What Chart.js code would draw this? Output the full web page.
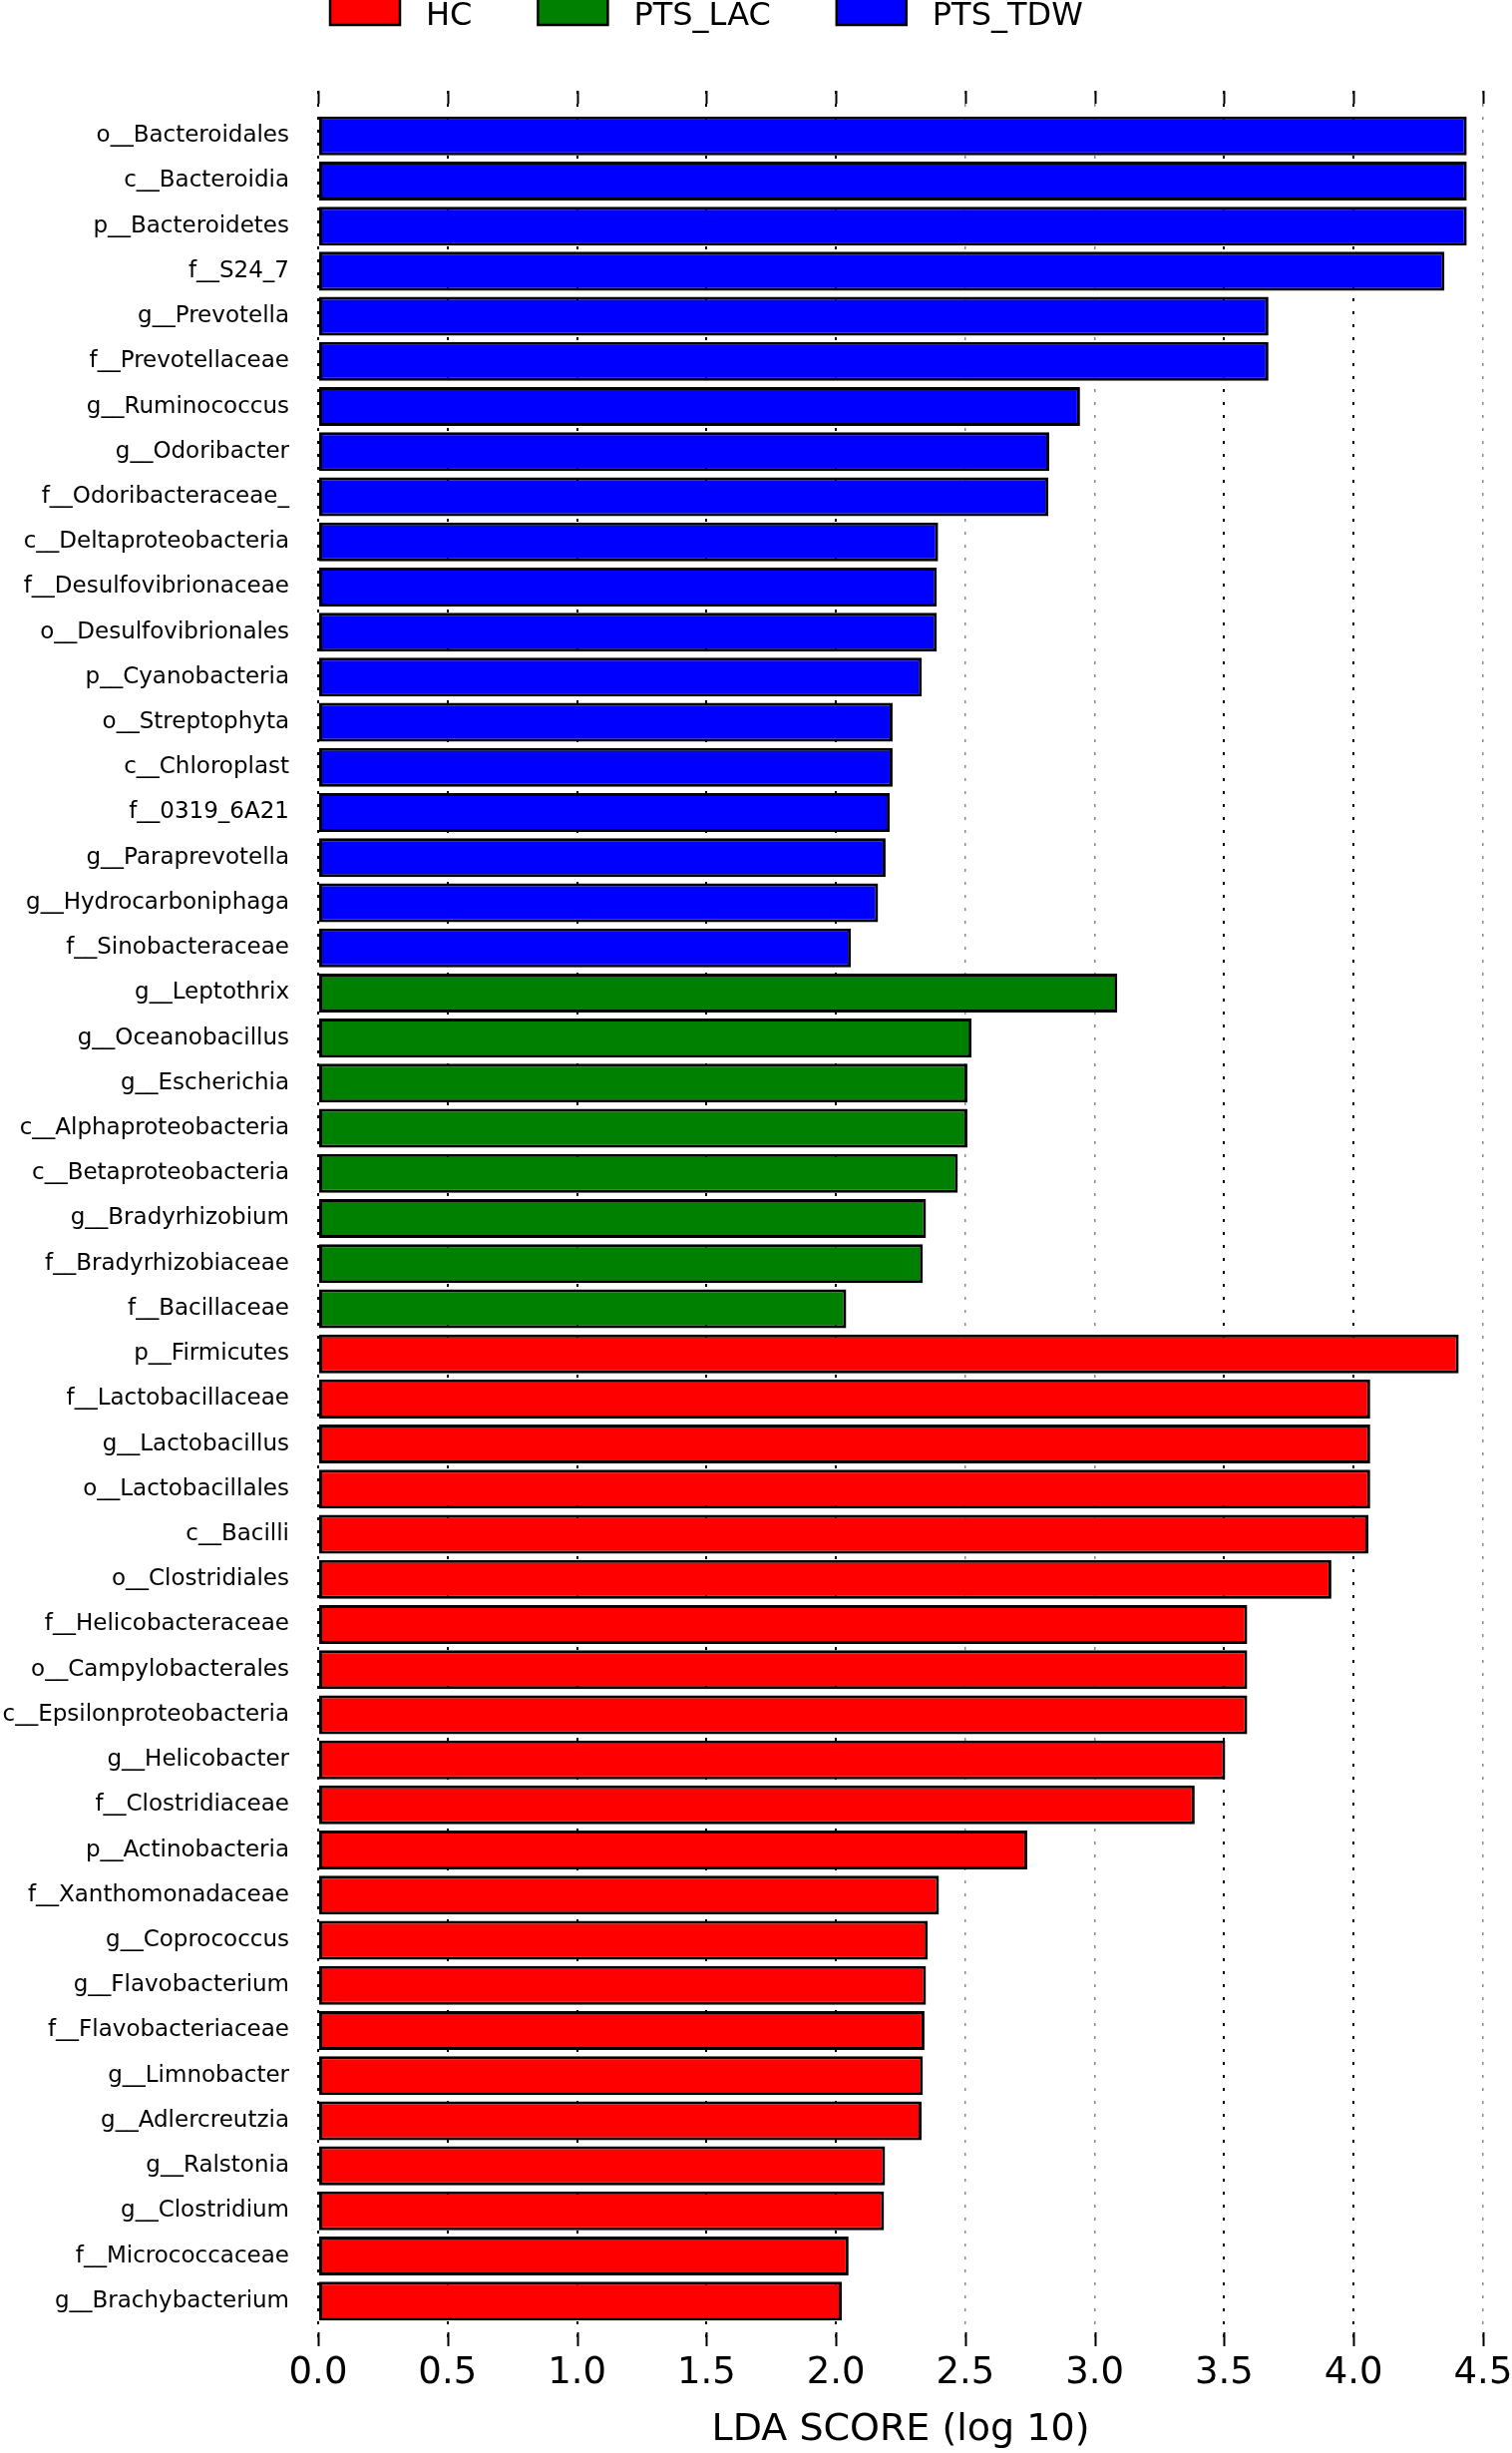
<!DOCTYPE html>
<html>
<head>
<meta charset="utf-8">
<title>LDA scores</title>
<script src="https://cdn.jsdelivr.net/npm/chart.js@4.4.1/dist/chart.umd.min.js"></script>
<style>
  html, body { margin: 0; padding: 0; background: #fff; }
  #wrap { width: 1516px; height: 2459px; position: relative; }
</style>
</head>
<body>
<div id="wrap"><canvas id="ldaChart"></canvas></div>
<script>
// taxa per group, top to bottom as in the figure
const tdwTaxa = [
  "o__Bacteroidales", "c__Bacteroidia", "p__Bacteroidetes", "f__S24_7",
  "g__Prevotella", "f__Prevotellaceae", "g__Ruminococcus", "g__Odoribacter",
  "f__Odoribacteraceae_", "c__Deltaproteobacteria", "f__Desulfovibrionaceae",
  "o__Desulfovibrionales", "p__Cyanobacteria", "o__Streptophyta", "c__Chloroplast",
  "f__0319_6A21", "g__Paraprevotella", "g__Hydrocarboniphaga", "f__Sinobacteraceae"
];
const tdwScores = [4.437, 4.437, 4.437, 4.351, 3.671, 3.671, 2.943, 2.824, 2.821, 2.395,
  2.390, 2.390, 2.332, 2.219, 2.219, 2.208, 2.192, 2.163, 2.058];

const lacTaxa = [
  "g__Leptothrix", "g__Oceanobacillus", "g__Escherichia", "c__Alphaproteobacteria",
  "c__Betaproteobacteria", "g__Bradyrhizobium", "f__Bradyrhizobiaceae", "f__Bacillaceae"
];
const lacScores = [3.087, 2.524, 2.508, 2.508, 2.471, 2.348, 2.336, 2.040];

const hcTaxa = [
  "p__Firmicutes", "f__Lactobacillaceae", "g__Lactobacillus", "o__Lactobacillales",
  "c__Bacilli", "o__Clostridiales", "f__Helicobacteraceae", "o__Campylobacterales",
  "c__Epsilonproteobacteria", "g__Helicobacter", "f__Clostridiaceae", "p__Actinobacteria",
  "f__Xanthomonadaceae", "g__Coprococcus", "g__Flavobacterium", "f__Flavobacteriaceae",
  "g__Limnobacter", "g__Adlercreutzia", "g__Ralstonia", "g__Clostridium",
  "f__Micrococcaceae", "g__Brachybacterium"
];
const hcScores = [4.406, 4.064, 4.064, 4.064, 4.057, 3.914, 3.589, 3.589, 3.589, 3.504, 3.386,
  2.739, 2.398, 2.355, 2.348, 2.342, 2.336, 2.331, 2.190, 2.186, 2.049, 2.023];

const legendNames = ["HC", "PTS_LAC", "PTS_TDW"];
const groupColors = { HC: "#ff0000", PTS_LAC: "#008000", PTS_TDW: "#0000ff" };
const xTickValues = [0, 0.5, 1, 1.5, 2, 2.5, 3, 3.5, 4, 4.5];
// grid lines that come out faint grey in the figure
const faintGrid = [2.5, 3, 4.5];

const taxa = [...tdwTaxa, ...lacTaxa, ...hcTaxa];
const scores = [...tdwScores, ...lacScores, ...hcScores];
const barGroups = [
  ...tdwTaxa.map(() => "PTS_TDW"),
  ...lacTaxa.map(() => "PTS_LAC"),
  ...hcTaxa.map(() => "HC")
];

const FONT = "'DejaVu Sans', 'Liberation Sans', sans-serif";

// short solid tick marks at top and bottom of the axes
const tickMarks = {
  id: "tickMarks",
  afterDraw(chart) {
    const { ctx, chartArea } = chart;
    const xs = chart.scales.x;
    ctx.save();
    ctx.strokeStyle = "#000";
    ctx.lineWidth = 2;
    xs.ticks.forEach(t => {
      const px = Math.round(xs.getPixelForValue(t.value)) + 0.5;
      ctx.beginPath();
      ctx.moveTo(px, chartArea.top);
      ctx.lineTo(px, chartArea.top + 13);
      ctx.moveTo(px, chartArea.bottom - 14);
      ctx.lineTo(px, chartArea.bottom);
      ctx.stroke();
    });
    ctx.restore();
  }
};

// legend row along the top edge (partly cut off, as in the figure)
const topLegend = {
  id: "topLegend",
  afterDraw(chart) {
    const ctx = chart.ctx;
    ctx.save();
    ctx.font = "32px " + FONT;
    ctx.textBaseline = "alphabetic";
    ctx.textAlign = "left";
    let cx = 331;
    legendNames.forEach(name => {
      ctx.fillStyle = groupColors[name];
      ctx.fillRect(cx, -8, 70, 33);
      ctx.strokeStyle = "#000";
      ctx.lineWidth = 2.5;
      ctx.strokeRect(cx, -8, 70, 33);
      ctx.fillStyle = "#000";
      ctx.fillText(name, cx + 96, 25);
      cx += 96 + ctx.measureText(name).width + 66;
    });
    ctx.restore();
  }
};

new Chart(document.getElementById("ldaChart"), {
  type: "bar",
  data: {
    datasets: [{
      data: scores.map((v, i) => ({ x: v, y: i })),
      backgroundColor: barGroups.map(g => groupColors[g]),
      borderColor: "#000",
      borderWidth: 3,
      borderSkipped: false,
      categoryPercentage: 1,
      barPercentage: 0.863
    }]
  },
  options: {
    indexAxis: "y",
    responsive: true,
    maintainAspectRatio: false,
    animation: false,
    layout: { padding: { top: 91, right: 29, left: 0, bottom: 0 } },
    plugins: {
      legend: { display: false },
      tooltip: { enabled: false }
    },
    scales: {
      x: {
        type: "linear",
        position: "bottom",
        min: 0,
        max: 4.5,
        z: 1,
        afterBuildTicks: s => { s.ticks = xTickValues.map(v => ({ value: v })); },
        afterFit: s => { s.height = 107; s.paddingRight = 29; },
        ticks: {
          padding: 5,
          color: "#000",
          font: { family: FONT, size: 37 },
          callback: v => Number(v).toFixed(1)
        },
        grid: {
          color: c => (c.tick && faintGrid.includes(c.tick.value)) ? "#8a8a8a" : "#000",
          lineWidth: c => (c.tick && faintGrid.includes(c.tick.value)) ? 1.5 : 2,
          drawTicks: false
        },
        border: { display: false, dash: [3, 10] },
        title: {
          display: true,
          text: "LDA SCORE (log 10)",
          color: "#000",
          font: { family: FONT, size: 38 },
          padding: { top: 0, bottom: 0 }
        }
      },
      y: {
        type: "linear",
        reverse: true,
        offset: false,
        min: -1,
        max: taxa.length,
        afterBuildTicks: s => { s.ticks = taxa.map((_, i) => ({ value: i })); },
        afterFit: s => { s.width = 319; s.paddingTop = 0; s.paddingBottom = 0; },
        ticks: {
          autoSkip: false,
          padding: 29,
          color: "#000",
          font: { family: FONT, size: 23 },
          callback: v => taxa[v]
        },
        grid: { display: false, drawTicks: false, offset: false },
        border: { display: false }
      }
    }
  },
  plugins: [tickMarks, topLegend]
});
</script>
</body>
</html>
